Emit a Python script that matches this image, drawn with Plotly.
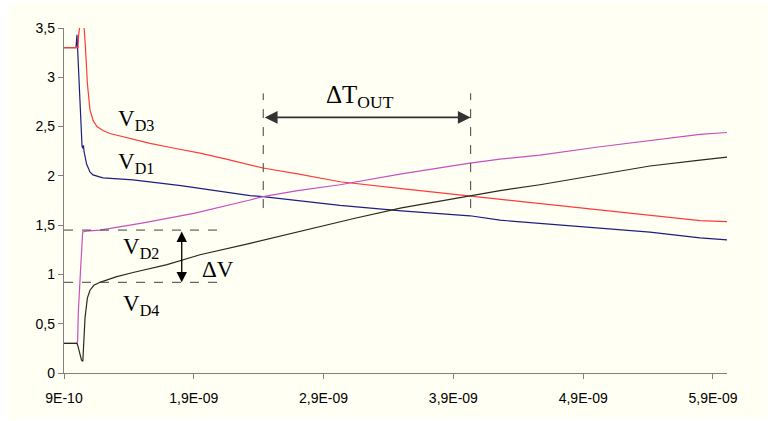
import plotly.graph_objects as go

# ---- data (time in ns, voltage in V) ----
t_vd3 = [0.9, 1.008, 1.012, 1.03, 1.045, 1.055, 1.065, 1.08, 1.10, 1.125, 1.154, 1.2, 1.254, 1.4, 1.563,
         1.75, 1.948, 2.15, 2.333, 2.433, 2.7, 3.026, 3.5, 4.028, 4.259, 4.567, 5.03, 5.414, 5.8, 6.008]
vd3 = [3.3, 3.3, 3.42, 3.6, 3.62, 3.5, 3.31, 2.94, 2.67, 2.56, 2.5, 2.46, 2.43, 2.38, 2.33,
       2.28, 2.23, 2.17, 2.11, 2.08, 2.02, 1.94, 1.87, 1.795, 1.765, 1.72, 1.66, 1.60, 1.545, 1.535]

t_vd1 = [0.9, 0.992, 1.0, 1.008, 1.019, 1.031, 1.039, 1.045, 1.05, 1.054, 1.074, 1.1, 1.123, 1.2, 1.432,
         1.8, 2.0, 2.333, 2.433, 2.7, 3.026, 3.5, 4.028, 4.259, 4.567, 5.03, 5.414, 5.8, 6.008]
vd1 = [3.3, 3.3, 3.43, 3.2, 2.8, 2.45, 2.3, 2.28, 2.31, 2.25, 2.12, 2.04, 2.01, 1.98, 1.96,
       1.90, 1.86, 1.80, 1.79, 1.75, 1.70, 1.645, 1.595, 1.55, 1.52, 1.47, 1.43, 1.37, 1.35]

t_vd2 = [0.9, 1.0, 1.005, 1.01, 1.029, 1.044, 1.07, 1.177, 1.5, 1.9, 2.333, 2.433, 2.7, 3.026, 3.5,
         4.028, 4.259, 4.567, 5.03, 5.414, 5.8, 6.008]
vd2 = [0.3, 0.3, 0.33, 0.61, 1.08, 1.43, 1.44, 1.45, 1.52, 1.62, 1.755, 1.79, 1.85, 1.91, 2.02,
       2.13, 2.17, 2.21, 2.295, 2.36, 2.42, 2.44]

t_vd4 = [0.9, 1.0, 1.008, 1.02, 1.035, 1.045, 1.054, 1.062, 1.08, 1.1, 1.13, 1.177, 1.3, 1.432, 1.694, 1.948,
         2.333, 2.718, 3.142, 3.5, 4.028, 4.259, 4.567, 5.03, 5.414, 5.8, 6.008]
vd4 = [0.3, 0.3, 0.27, 0.2, 0.13, 0.12, 0.3, 0.56, 0.76, 0.84, 0.89, 0.92, 0.975, 1.02, 1.10, 1.20,
       1.315, 1.44, 1.57, 1.675, 1.795, 1.85, 1.91, 2.01, 2.10, 2.16, 2.19]

x_tickvals = [0.9, 1.9, 2.9, 3.9, 4.9, 5.9]
x_ticktext = ["9E-10", "1,9E-09", "2,9E-09", "3,9E-09", "4,9E-09", "5,9E-09"]
y_tickvals = [0, 0.5, 1, 1.5, 2, 2.5, 3, 3.5]
y_ticktext = ["0", "0,5", "1", "1,5", "2", "2,5", "3", "3,5"]

# annotation levels
DV_HIGH, DV_LOW, DV_X, DV_END = 1.45, 0.92, 1.807, 2.079
DT_START, DT_END, DT_Y, DT_TOP, DT_BOT = 2.435, 4.033, 2.593, 2.837, 1.673

CREAM = "#FFFFF3"
fig = go.Figure()
fig.add_trace(go.Scatter(x=t_vd1, y=vd1, mode="lines", line=dict(color="#1E1E82", width=1.2), name="VD1"))
fig.add_trace(go.Scatter(x=t_vd3, y=vd3, mode="lines", line=dict(color="#FF3A3A", width=1.2), name="VD3"))
fig.add_trace(go.Scatter(x=t_vd2, y=vd2, mode="lines", line=dict(color="#C850C0", width=1.2), name="VD2"))
fig.add_trace(go.Scatter(x=t_vd4, y=vd4, mode="lines", line=dict(color="#2A2A1C", width=1.2), name="VD4"))

L, R, T, B = 64, 41, 28, 48
W, H = 768, 421
pw, ph = W - L - R, H - T - B

def px(xp):
    return (xp - L) / pw

def py(yp):
    return (H - B - yp) / ph

shapes = [
    dict(type="rect", xref="paper", yref="paper", x0=px(8), x1=px(767), y0=py(3), y1=py(419),
         fillcolor=CREAM, line=dict(width=0), layer="below"),
    dict(type="line", xref="x", yref="y", x0=0.9, x1=DV_END, y0=DV_HIGH, y1=DV_HIGH,
         line=dict(color="#404040", width=1, dash="dash")),
    dict(type="line", xref="x", yref="y", x0=0.9, x1=DV_END, y0=DV_LOW, y1=DV_LOW,
         line=dict(color="#404040", width=1, dash="dash")),
    dict(type="line", xref="x", yref="y", x0=DT_START, x1=DT_START, y0=DT_BOT, y1=DT_TOP,
         line=dict(color="#404040", width=1, dash="dash")),
    dict(type="line", xref="x", yref="y", x0=DT_END, x1=DT_END, y0=DT_BOT, y1=DT_TOP,
         line=dict(color="#404040", width=1, dash="dash")),
]

SERIF = "Liberation Serif"
lab = dict(showarrow=False, xref="x", yref="y", font=dict(family=SERIF, size=23, color="black"))
annotations = [
    dict(x=1.455, y=2.566, text="V<sub>D3</sub>", **lab),
    dict(x=1.455, y=2.13, text="V<sub>D1</sub>", **lab),
    dict(x=1.493, y=1.268, text="V<sub>D2</sub>", **lab),
    dict(x=1.493, y=0.69, text="V<sub>D4</sub>", **lab),
    dict(x=2.086, y=1.045, text="ΔV", **lab),
    dict(x=3.18, y=2.81, text="ΔT<sub>OUT</sub>", showarrow=False, xref="x", yref="y",
         font=dict(family=SERIF, size=25, color="black")),
    dict(x=6.165, y=0.05, text="t", showarrow=False, xref="x", yref="y",
         font=dict(family="Liberation Sans", size=23, color="black")),
    # vertical double arrow (ΔV)
    dict(x=DV_X, y=DV_LOW, ax=DV_X, ay=DV_HIGH, xref="x", yref="y", axref="x", ayref="y", text="",
         showarrow=True, arrowhead=2, startarrowhead=2, arrowside="end+start", arrowsize=1.6,
         startarrowsize=1.6, arrowwidth=1.3, arrowcolor="black"),
    # horizontal double arrow (ΔT_OUT)
    dict(x=DT_END, y=DT_Y, ax=DT_START, ay=DT_Y, xref="x", yref="y", axref="x", ayref="y", text="",
         showarrow=True, arrowhead=2, startarrowhead=2, arrowside="end+start", arrowsize=1.6,
         startarrowsize=1.6, arrowwidth=1.6, arrowcolor="#333333"),
]

axis_common = dict(showline=True, linecolor="#808080", linewidth=1.3, ticks="outside", ticklen=5,
                   tickcolor="#808080", tickwidth=1.3, showgrid=False, zeroline=False,
                   tickfont=dict(family="Liberation Sans", size=14, color="black"))

fig.update_layout(
    width=W, height=H,
    margin=dict(l=L, r=R, t=T, b=B),
    paper_bgcolor="white", plot_bgcolor="rgba(0,0,0,0)",
    showlegend=False,
    shapes=shapes, annotations=annotations,
    xaxis=dict(range=[0.9, 6.008], tickvals=x_tickvals, ticktext=x_ticktext,
               ticklabelstandoff=7, **axis_common),
    yaxis=dict(range=[0, 3.5], tickvals=y_tickvals, ticktext=y_ticktext, **axis_common),
)

fig.write_html("out.html")
